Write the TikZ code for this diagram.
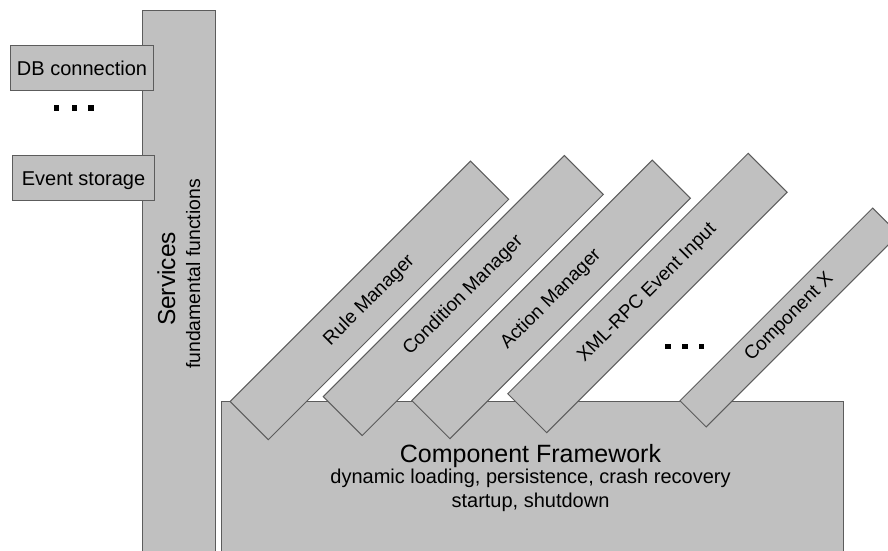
\documentclass[tikz,border=0pt]{standalone}
\usepackage{fontspec}
\setmainfont{Liberation Sans}
\definecolor{boxgray}{HTML}{C0C0C0}
\definecolor{edgegray}{HTML}{5C5C5C}

\begin{document}
\begin{tikzpicture}[x=1pt, y=-1pt,
  box/.style={draw=edgegray, fill=boxgray, line width=1pt, inner sep=0pt},
  storebox/.style={box, anchor=north west, minimum height=45pt,
    text height=14.5pt, text depth=0pt, font=\fontsize{20}{24}\selectfont},
  bar/.style={box, rotate=45, minimum width=340pt, minimum height=54pt,
    font=\fontsize{19}{22}\selectfont},
  dotmark/.style={fill=black, inner sep=0pt, minimum size=5.5pt},
]
\useasboundingbox (0,0) rectangle (888,550);
\clip (0,0) rectangle (888,550);

% services column with its stored items in front
\node[box, anchor=north west, minimum width=73pt, minimum height=560pt] (services) at (142,10) {};
\node[rotate=90, anchor=base, font=\fontsize{24.5}{28}\selectfont] (svcname) at (175,279) {Services};
\node[rotate=90, anchor=base, font=\fontsize{19.4}{23}\selectfont] (svcsub) at (200,274) {fundamental functions};

\node[storebox, minimum width=143pt] (db) at (10,45) {DB connection};
\node[storebox, minimum width=142pt] (events) at (12,155) {Event storage};

\node[dotmark] (ldot1) at (56.3,108) {};
\node[dotmark] (ldot2) at (74.5,108) {};
\node[dotmark] (ldot3) at (91.2,108) {};

% component framework base
\node[box, anchor=north west, minimum width=622pt, minimum height=170pt] (framework) at (221,401) {};
\node[anchor=base, font=\fontsize{25}{30}\selectfont] (cftitle) at (530.5,462) {Component Framework};
\node[anchor=base, font=\fontsize{20}{24}\selectfont] (cfline1) at (530.5,483) {dynamic loading, persistence, crash recovery};
\node[anchor=base, font=\fontsize{20}{24}\selectfont] (cfline2) at (530.5,507) {startup, shutdown};

% plugged-in components
\node[bar] (rule) at (369.4,300.4) {Rule Manager};
\node[bar, minimum width=341pt, minimum height=55pt] (cond) at (463.3,295.5) {Condition Manager};
\node[bar] (action) at (551.1,299.4) {Action Manager};
\node[bar, minimum height=55pt] (xmlrpc) at (647.4,293) {XML-RPC Event Input};
\node[bar, minimum width=272.5pt, minimum height=37pt] (compx) at (789.4,317.5) {Component X};

\node[dotmark] (rdot1) at (667.8,346.7) {};
\node[dotmark] (rdot2) at (685,346.7) {};
\node[dotmark] (rdot3) at (701.7,346.7) {};
\end{tikzpicture}
\end{document}
